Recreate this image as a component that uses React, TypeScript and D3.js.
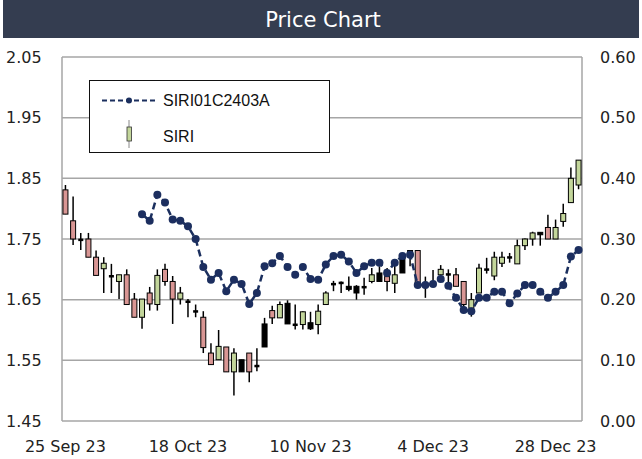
import React from "react";
import { scaleLinear, line } from "d3";

const width = 642;
const height = 459;

// plot frame
const margin = { top: 57, right: 60, bottom: 38, left: 62 };
const innerLeft = margin.left;
const innerRight = width - margin.right;
const innerTop = margin.top;
const innerBottom = height - margin.bottom;

// SIRI daily candles, 25 Sep 23 .. 29 Dec 23
const opens = [
  1.831, 1.78, 1.749, 1.75, 1.72, 1.701, 1.689, 1.68, 1.691, 1.651,
  1.621, 1.661, 1.642, 1.7, 1.68, 1.651, 1.647, 1.631, 1.621, 1.562,
  1.551, 1.572, 1.531, 1.551, 1.562, 1.541, 1.572, 1.632, 1.62, 1.644,
  1.609, 1.609, 1.612, 1.609, 1.642, 1.676, 1.678, 1.672, 1.672, 1.671,
  1.68, 1.694, 1.688, 1.677, 1.724, 1.724, 1.731, 1.675, 1.677, 1.691,
  1.692, 1.691, 1.68, 1.636, 1.661, 1.7, 1.689, 1.71, 1.72, 1.709,
  1.739, 1.75, 1.757, 1.769, 1.75, 1.779, 1.81, 1.839
];
const highs = [
  1.839, 1.82, 1.76, 1.76, 1.731, 1.72, 1.709, 1.691, 1.7, 1.661,
  1.651, 1.671, 1.7, 1.709, 1.689, 1.671, 1.651, 1.642, 1.631, 1.578,
  1.6, 1.572, 1.57, 1.551, 1.562, 1.57, 1.62, 1.64, 1.647, 1.649,
  1.642, 1.631, 1.63, 1.642, 1.664, 1.681, 1.68, 1.688, 1.674, 1.686,
  1.702, 1.705, 1.702, 1.71, 1.727, 1.732, 1.731, 1.688, 1.699, 1.707,
  1.7, 1.702, 1.68, 1.661, 1.709, 1.719, 1.729, 1.729, 1.727, 1.749,
  1.751, 1.762, 1.761, 1.79, 1.782, 1.808, 1.868, 1.88
];
const lows = [
  1.791, 1.74, 1.732, 1.72, 1.69, 1.661, 1.661, 1.651, 1.642, 1.621,
  1.602, 1.632, 1.632, 1.673, 1.61, 1.642, 1.621, 1.621, 1.562, 1.543,
  1.551, 1.531, 1.492, 1.531, 1.514, 1.532, 1.572, 1.61, 1.62, 1.61,
  1.601, 1.601, 1.6, 1.593, 1.642, 1.664, 1.661, 1.664, 1.65, 1.658,
  1.677, 1.68, 1.664, 1.661, 1.694, 1.705, 1.669, 1.653, 1.672, 1.688,
  1.677, 1.672, 1.633, 1.622, 1.661, 1.693, 1.682, 1.704, 1.711, 1.709,
  1.732, 1.739, 1.739, 1.75, 1.75, 1.77, 1.81, 1.832
];
const closes = [
  1.791, 1.75, 1.749, 1.72, 1.69, 1.71, 1.689, 1.691, 1.642, 1.621,
  1.651, 1.643, 1.69, 1.68, 1.651, 1.661, 1.647, 1.631, 1.571, 1.543,
  1.573, 1.531, 1.562, 1.531, 1.531, 1.541, 1.61, 1.62, 1.642, 1.61,
  1.609, 1.63, 1.602, 1.631, 1.661, 1.676, 1.678, 1.667, 1.661, 1.671,
  1.691, 1.68, 1.68, 1.691, 1.694, 1.731, 1.675, 1.675, 1.677, 1.7,
  1.692, 1.672, 1.642, 1.65, 1.702, 1.7, 1.72, 1.72, 1.72, 1.739,
  1.75, 1.76, 1.761, 1.75, 1.769, 1.792, 1.85, 1.88
];
// candles shown with a black body in the source
const blackBodies = [23, 26, 29, 32, 37, 38, 41, 44, 62];

// SIRI01C2403A option price (right axis), starts at the 11th session
const optionPrices: (number | null)[] = [
  null, null, null, null, null, null, null, null, null, null,
  0.341, 0.33, 0.373, 0.36, 0.332, 0.33, 0.321, 0.3, 0.254, 0.233,
  0.244, 0.214, 0.233, 0.226, 0.193, 0.211, 0.255, 0.26, 0.272, 0.254,
  0.241, 0.254, 0.234, 0.233, 0.258, 0.272, 0.274, 0.263, 0.244, 0.255,
  0.261, 0.261, 0.244, 0.261, 0.272, 0.274, 0.224, 0.224, 0.226, 0.234,
  0.223, 0.203, 0.183, 0.181, 0.203, 0.203, 0.213, 0.213, 0.194, 0.21,
  0.224, 0.224, 0.213, 0.203, 0.213, 0.224, 0.271, 0.282
];

const tickIdx = [0, 16, 32, 48, 64];
const tickLabels = ["25 Sep 23", "18 Oct 23", "10 Nov 23", "4 Dec 23", "28 Dec 23"];
const leftTicks = [1.45, 1.55, 1.65, 1.75, 1.85, 1.95, 2.05];
const rightTicks = [0, 0.1, 0.2, 0.3, 0.4, 0.5, 0.6];

const seriesName = "SIRI01C2403A";
const stockName = "SIRI";

const UP = "#c3d69b";
const DOWN = "#d99694";
const NAVY = "#1b2f5e";
const GRID = "#a6a6a6";
const FONT = "'DejaVu Sans', sans-serif";

export default function App() {
  const n = opens.length;
  const x = scaleLinear().domain([-0.45, n - 1 + 0.45]).range([innerLeft, innerRight]);
  const yL = scaleLinear().domain([1.45, 2.05]).range([innerBottom, innerTop]);
  const yR = scaleLinear().domain([0, 0.6]).range([innerBottom, innerTop]);
  const bodyW = 5;

  const optLine = line<number | null>()
    .defined((d) => d != null)
    .x((_, i) => x(i))
    .y((d) => yR(d as number))(optionPrices);

  return (
    <svg
      width={width}
      height={height}
      style={{ position: "fixed", left: 0, top: 0, background: "#fff" }}
    >
      <defs>
        <filter id="soft" x="-50%" y="-50%" width="200%" height="200%">
          <feGaussianBlur stdDeviation="0.7" />
        </filter>
      </defs>

      {/* title bar */}
      <rect x={3} y={0} width={636} height={38} fill="#343d50" />
      <text
        x={323}
        y={19}
        dy="0.36em"
        textAnchor="middle"
        fill="#fff"
        fontFamily={FONT}
        fontSize={21}
      >
        Price Chart
      </text>

      {/* gridlines */}
      {leftTicks.map((t) => (
        <line
          key={t}
          x1={innerLeft}
          x2={innerRight}
          y1={yL(t)}
          y2={yL(t)}
          stroke={GRID}
          strokeWidth={1.5}
        />
      ))}
      <line x1={innerLeft} x2={innerLeft} y1={innerTop} y2={innerBottom} stroke={GRID} strokeWidth={1.5} />
      <line x1={innerRight} x2={innerRight} y1={innerTop} y2={innerBottom} stroke={GRID} strokeWidth={1.5} />

      {/* left axis */}
      {leftTicks.map((t) => (
        <text key={t} x={6} y={yL(t)} dy="0.36em" fontFamily={FONT} fontSize={16} fill="#222">
          {t.toFixed(2)}
        </text>
      ))}
      {/* right axis */}
      {rightTicks.map((t) => (
        <text key={t} x={600} y={yR(t)} dy="0.36em" fontFamily={FONT} fontSize={16} fill="#222">
          {t.toFixed(2)}
        </text>
      ))}
      {/* x axis labels */}
      {tickIdx.map((i, k) => (
        <text
          key={i}
          x={x(i)}
          y={446}
          dy="0.36em"
          textAnchor="middle"
          fontFamily={FONT}
          fontSize={16}
          fill="#222"
        >
          {tickLabels[k]}
        </text>
      ))}

      {/* candles */}
      {opens.map((o, i) => {
        const c = closes[i];
        const cx = x(i);
        const top = yL(Math.max(o, c));
        const bot = yL(Math.min(o, c));
        const doji = bot - top < 2;
        const fill = doji || blackBodies.includes(i) ? "#000" : c >= o ? UP : DOWN;
        return (
          <g key={i}>
            <line x1={cx} x2={cx} y1={yL(highs[i])} y2={yL(lows[i])} stroke="#000" strokeWidth={1.5} />
            {doji ? (
              <rect x={cx - bodyW / 2} y={top - 1} width={bodyW} height={2.5} fill="#000" />
            ) : (
              <rect
                x={cx - bodyW / 2}
                y={top}
                width={bodyW}
                height={bot - top}
                fill={fill}
                stroke="#000"
                strokeWidth={1}
              />
            )}
          </g>
        );
      })}

      {/* option line */}
      <path d={optLine || ""} fill="none" stroke={NAVY} strokeWidth={2.5} strokeDasharray="7 4" />
      <g filter="url(#soft)">
        {optionPrices.map((v, i) =>
          v == null ? null : <circle key={i} cx={x(i)} cy={yR(v)} r={4} fill={NAVY} />
        )}
      </g>

      {/* legend */}
      <rect x={89.5} y={80.5} width={240} height={72} fill="#fff" stroke="#111" strokeWidth={1} />
      <line x1={102} x2={156} y1={100.5} y2={100.5} stroke={NAVY} strokeWidth={2} strokeDasharray="5 3" />
      <circle cx={129} cy={100.5} r={3} fill={NAVY} />
      <text x={163} y={100.5} dy="0.36em" fontFamily="'Liberation Sans', Arial, sans-serif" fontSize={16} fill="#111">
        {seriesName}
      </text>
      <line x1={129} x2={129} y1={120} y2={148} stroke="#888" strokeWidth={1} />
      <rect x={127} y={127} width={4.5} height={14} fill={UP} stroke="#333" strokeWidth={0.8} />
      <text x={163} y={136.5} dy="0.36em" fontFamily="'Liberation Sans', Arial, sans-serif" fontSize={16} fill="#111">
        {stockName}
      </text>
    </svg>
  );
}
